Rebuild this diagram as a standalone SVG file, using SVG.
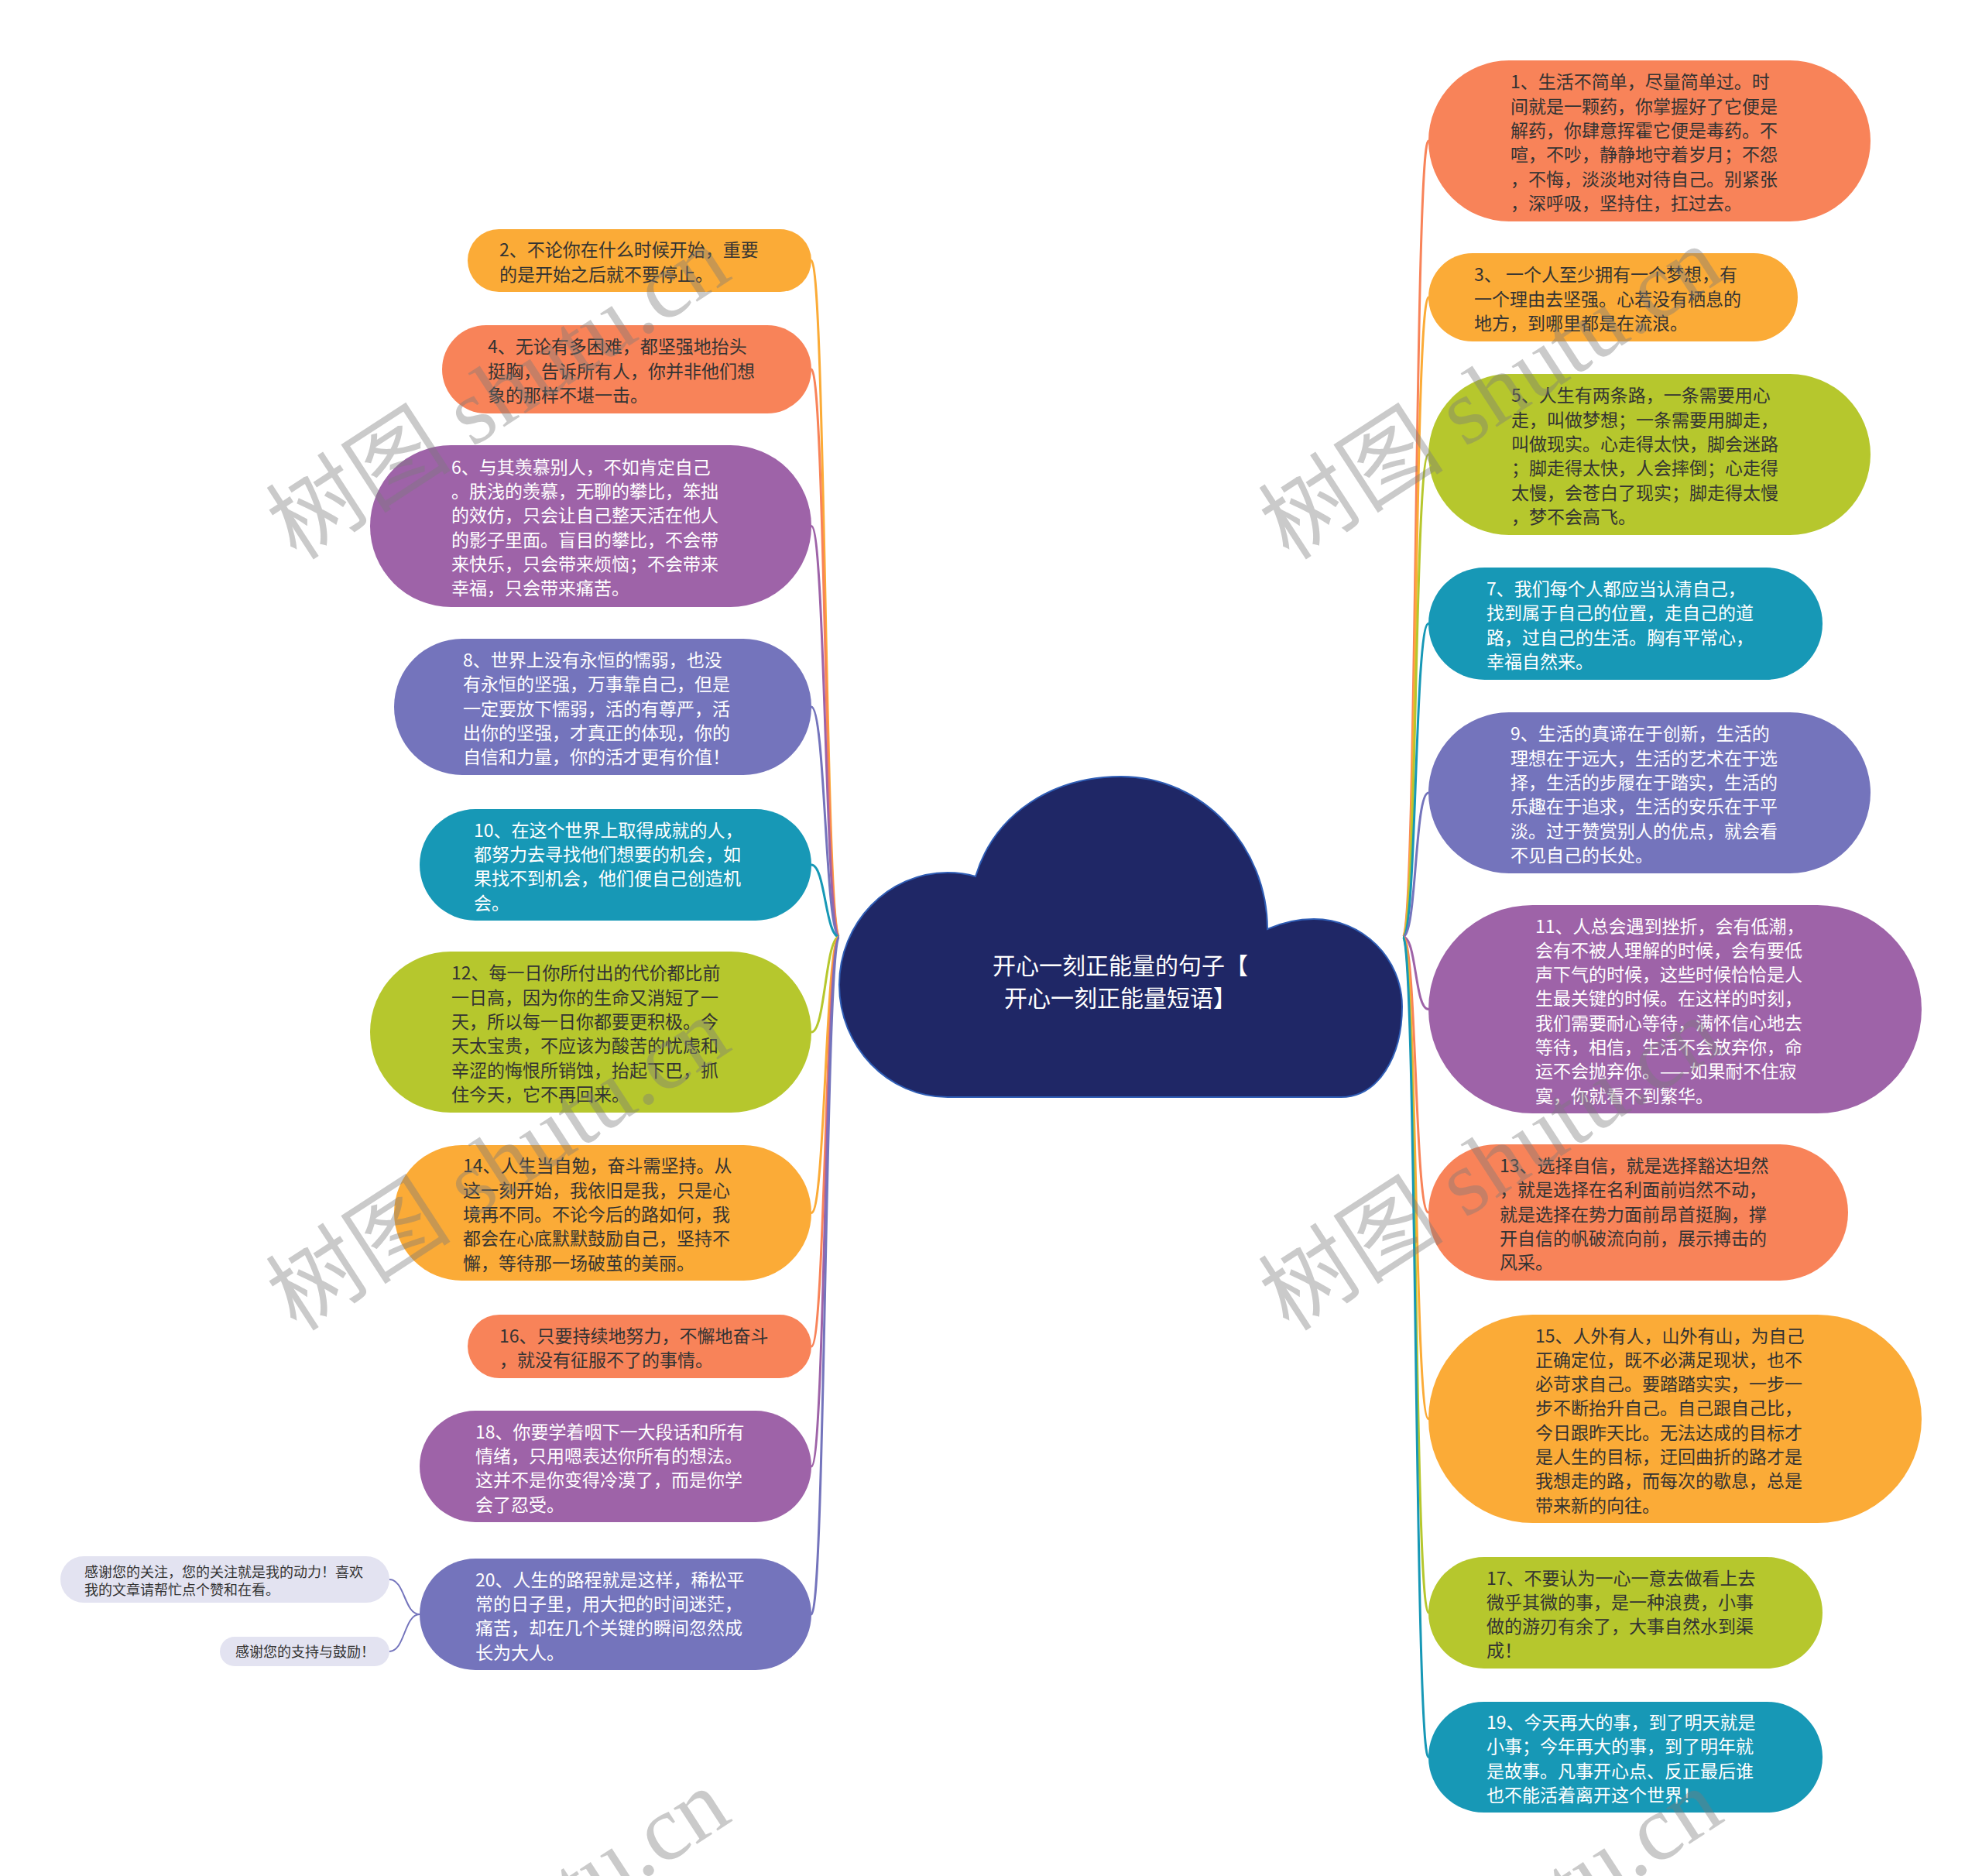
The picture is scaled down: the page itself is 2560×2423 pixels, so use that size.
<svg xmlns="http://www.w3.org/2000/svg" width="2560" height="2423" viewBox="0 0 2560 2423">
<style>
text{font-family:"Noto Sans CJK SC","Noto Sans",sans-serif}
.t{font-size:23px}
.s{font-size:18px}
.dk{fill:#333333}
.lt{fill:#ffffff}
.or{fill:#f88359}
.ye{fill:#fbab37}
.gr{fill:#b6c72d}
.te{fill:#1798b6}
.bp{fill:#7474bc}
.pu{fill:#9e63a8}
.th{fill:#e3e3f1}
.c{fill:none;stroke-width:3}
.cor{stroke:#f88359}.cye{stroke:#fbab37}.cgr{stroke:#b6c72d}.cte{stroke:#1798b6}.cbp{stroke:#7474bc}.cpu{stroke:#9e63a8}
.title{font-size:30px;fill:#ffffff}
.wm{font-family:"Liberation Serif","Noto Sans CJK SC",serif;font-size:120px;fill:#7a7a7a;fill-opacity:0.4}
</style>
<rect width="2560" height="2423" fill="#ffffff"/>
<g id="connectors">
<path class="c cye" d="M1084 1210C1066 1210 1066 336.5 1048 336.5"/>
<path class="c cor" d="M1084 1210C1066 1210 1066 477 1048 477"/>
<path class="c cpu" d="M1084 1210C1066 1210 1066 679.5 1048 679.5"/>
<path class="c cbp" d="M1084 1210C1066 1210 1066 913 1048 913"/>
<path class="c cte" d="M1084 1210C1066 1210 1066 1117 1048 1117"/>
<path class="c cgr" d="M1084 1210C1066 1210 1066 1333 1048 1333"/>
<path class="c cye" d="M1084 1210C1066 1210 1066 1566.5 1048 1566.5"/>
<path class="c cor" d="M1084 1210C1066 1210 1066 1739 1048 1739"/>
<path class="c cpu" d="M1084 1210C1066 1210 1066 1894 1048 1894"/>
<path class="c cbp" d="M1084 1210C1066 1210 1066 2085 1048 2085"/>
<path class="c cor" d="M1812 1210C1830 1210 1827 182 1845 182"/>
<path class="c cye" d="M1812 1210C1830 1210 1827 384 1845 384"/>
<path class="c cgr" d="M1812 1210C1830 1210 1827 587 1845 587"/>
<path class="c cte" d="M1812 1210C1830 1210 1827 805.5 1845 805.5"/>
<path class="c cbp" d="M1812 1210C1830 1210 1827 1024 1845 1024"/>
<path class="c cpu" d="M1812 1210C1830 1210 1827 1303.5 1845 1303.5"/>
<path class="c cor" d="M1812 1210C1830 1210 1827 1566 1845 1566"/>
<path class="c cye" d="M1812 1210C1830 1210 1827 1832.5 1845 1832.5"/>
<path class="c cgr" d="M1812 1210C1830 1210 1827 2083 1845 2083"/>
<path class="c cte" d="M1812 1210C1830 1210 1827 2269.5 1845 2269.5"/>
<path fill="none" stroke="#7474bc" stroke-width="2" d="M542 2085C522 2085 523 2040 503 2040"/>
<path fill="none" stroke="#7474bc" stroke-width="2" d="M542 2085C522 2085 523 2133 503 2133"/>
</g>
<g id="center">
<path fill="#1f2766" stroke="#2f5db5" stroke-width="2" d="M1224 1417C1147 1417 1084 1352 1084 1272C1084 1192 1147 1127 1224 1127C1238 1127 1250 1129 1260 1132C1285 1050 1360 1003 1448 1003C1555 1003 1637 1095 1637 1200C1655 1192 1676 1187 1697 1187C1760 1187 1811 1238 1811 1300C1811 1365 1780 1417 1732 1417Z"/>
<text class="title" text-anchor="middle" x="1447" y="1258">开心一刻正能量的句子【<tspan x="1447" dy="42">开心一刻正能量短语】</tspan></text>
</g>
<g id="node-r1"><rect class="or" x="1845" y="78" width="571" height="208" rx="104"/>
<text class="t dk" x="1951" y="114.3">1、生活不简单，尽量简单过。时<tspan x="1951" dy="31.3">间就是一颗药，你掌握好了它便是</tspan><tspan x="1951" dy="31.3">解药，你肆意挥霍它便是毒药。不</tspan><tspan x="1951" dy="31.3">喧，不吵，静静地守着岁月；不怨</tspan><tspan x="1951" dy="31.3">，不悔，淡淡地对待自己。别紧张</tspan><tspan x="1951" dy="31.3">，深呼吸，坚持住，扛过去。</tspan></text></g>
<g id="node-r3"><rect class="ye" x="1845" y="327" width="477" height="114" rx="57"/>
<text class="t dk" x="1904" y="363.2">3、 一个人至少拥有一个梦想，有<tspan x="1904" dy="31.3">一个理由去坚强。心若没有栖息的</tspan><tspan x="1904" dy="31.3">地方，到哪里都是在流浪。</tspan></text></g>
<g id="node-r5"><rect class="gr" x="1845" y="483" width="571" height="208" rx="104"/>
<text class="t dk" x="1952" y="519.3">5、人生有两条路，一条需要用心<tspan x="1952" dy="31.3">走，叫做梦想；一条需要用脚走，</tspan><tspan x="1952" dy="31.3">叫做现实。心走得太快，脚会迷路</tspan><tspan x="1952" dy="31.3">；脚走得太快，人会摔倒；心走得</tspan><tspan x="1952" dy="31.3">太慢，会苍白了现实；脚走得太慢</tspan><tspan x="1952" dy="31.3">，梦不会高飞。</tspan></text></g>
<g id="node-r7"><rect class="te" x="1845" y="733" width="509" height="145" rx="72.5"/>
<text class="t lt" x="1920" y="769">7、我们每个人都应当认清自己，<tspan x="1920" dy="31.3">找到属于自己的位置，走自己的道</tspan><tspan x="1920" dy="31.3">路，过自己的生活。胸有平常心，</tspan><tspan x="1920" dy="31.3">幸福自然来。</tspan></text></g>
<g id="node-r9"><rect class="bp" x="1845" y="920" width="571" height="208" rx="104"/>
<text class="t lt" x="1951" y="956.3">9、生活的真谛在于创新，生活的<tspan x="1951" dy="31.3">理想在于远大，生活的艺术在于选</tspan><tspan x="1951" dy="31.3">择，生活的步履在于踏实，生活的</tspan><tspan x="1951" dy="31.3">乐趣在于追求，生活的安乐在于平</tspan><tspan x="1951" dy="31.3">淡。过于赞赏别人的优点，就会看</tspan><tspan x="1951" dy="31.3">不见自己的长处。</tspan></text></g>
<g id="node-r11"><rect class="pu" x="1845" y="1169" width="637" height="269" rx="134.5"/>
<text class="t lt" x="1983" y="1204.5">11、人总会遇到挫折，会有低潮，<tspan x="1983" dy="31.3">会有不被人理解的时候，会有要低</tspan><tspan x="1983" dy="31.3">声下气的时候，这些时候恰恰是人</tspan><tspan x="1983" dy="31.3">生最关键的时候。在这样的时刻，</tspan><tspan x="1983" dy="31.3">我们需要耐心等待，满怀信心地去</tspan><tspan x="1983" dy="31.3">等待，相信，生活不会放弃你，命</tspan><tspan x="1983" dy="31.3">运不会抛弃你。——如果耐不住寂</tspan><tspan x="1983" dy="31.3">寞，你就看不到繁华。</tspan></text></g>
<g id="node-r13"><rect class="or" x="1845" y="1478" width="542" height="176" rx="88"/>
<text class="t dk" x="1937" y="1514">13、选择自信，就是选择豁达坦然<tspan x="1937" dy="31.3">，就是选择在名利面前岿然不动，</tspan><tspan x="1937" dy="31.3">就是选择在势力面前昂首挺胸，撑</tspan><tspan x="1937" dy="31.3">开自信的帆破流向前，展示搏击的</tspan><tspan x="1937" dy="31.3">风采。</tspan></text></g>
<g id="node-r15"><rect class="ye" x="1845" y="1698" width="637" height="269" rx="134.5"/>
<text class="t dk" x="1983" y="1733.5">15、人外有人，山外有山，为自己<tspan x="1983" dy="31.3">正确定位，既不必满足现状，也不</tspan><tspan x="1983" dy="31.3">必苛求自己。要踏踏实实，一步一</tspan><tspan x="1983" dy="31.3">步不断抬升自己。自己跟自己比，</tspan><tspan x="1983" dy="31.3">今日跟昨天比。无法达成的目标才</tspan><tspan x="1983" dy="31.3">是人生的目标，迂回曲折的路才是</tspan><tspan x="1983" dy="31.3">我想走的路，而每次的歇息，总是</tspan><tspan x="1983" dy="31.3">带来新的向往。</tspan></text></g>
<g id="node-r17"><rect class="gr" x="1845" y="2011" width="509" height="144" rx="72"/>
<text class="t dk" x="1920" y="2046.5">17、不要认为一心一意去做看上去<tspan x="1920" dy="31.3">微乎其微的事，是一种浪费，小事</tspan><tspan x="1920" dy="31.3">做的游刃有余了，大事自然水到渠</tspan><tspan x="1920" dy="31.3">成！</tspan></text></g>
<g id="node-r19"><rect class="te" x="1845" y="2198" width="509" height="143" rx="71.5"/>
<text class="t lt" x="1920" y="2233">19、今天再大的事，到了明天就是<tspan x="1920" dy="31.3">小事；今年再大的事，到了明年就</tspan><tspan x="1920" dy="31.3">是故事。凡事开心点、反正最后谁</tspan><tspan x="1920" dy="31.3">也不能活着离开这个世界！</tspan></text></g>
<g id="node-l2"><rect class="ye" x="604" y="296" width="444" height="81" rx="40.5"/>
<text class="t dk" x="645" y="331.4">2、不论你在什么时候开始，重要<tspan x="645" dy="31.3">的是开始之后就不要停止。</tspan></text></g>
<g id="node-l4"><rect class="or" x="571" y="420" width="477" height="114" rx="57"/>
<text class="t dk" x="630" y="456.2">4、无论有多困难，都坚强地抬头<tspan x="630" dy="31.3">挺胸，告诉所有人，你并非他们想</tspan><tspan x="630" dy="31.3">象的那样不堪一击。</tspan></text></g>
<g id="node-l6"><rect class="pu" x="478" y="575" width="570" height="209" rx="104.5"/>
<text class="t lt" x="583" y="611.8">6、与其羡慕别人，不如肯定自己<tspan x="583" dy="31.3">。肤浅的羡慕，无聊的攀比，笨拙</tspan><tspan x="583" dy="31.3">的效仿，只会让自己整天活在他人</tspan><tspan x="583" dy="31.3">的影子里面。盲目的攀比，不会带</tspan><tspan x="583" dy="31.3">来快乐，只会带来烦恼；不会带来</tspan><tspan x="583" dy="31.3">幸福，只会带来痛苦。</tspan></text></g>
<g id="node-l8"><rect class="bp" x="509" y="825" width="539" height="176" rx="88"/>
<text class="t lt" x="598" y="860.9">8、世界上没有永恒的懦弱，也没<tspan x="598" dy="31.3">有永恒的坚强，万事靠自己，但是</tspan><tspan x="598" dy="31.3">一定要放下懦弱，活的有尊严，活</tspan><tspan x="598" dy="31.3">出你的坚强，才真正的体现，你的</tspan><tspan x="598" dy="31.3">自信和力量，你的活才更有价值！</tspan></text></g>
<g id="node-l10"><rect class="te" x="542" y="1045" width="506" height="144" rx="72"/>
<text class="t lt" x="612" y="1080.6">10、在这个世界上取得成就的人，<tspan x="612" dy="31.3">都努力去寻找他们想要的机会，如</tspan><tspan x="612" dy="31.3">果找不到机会，他们便自己创造机</tspan><tspan x="612" dy="31.3">会。</tspan></text></g>
<g id="node-l12"><rect class="gr" x="478" y="1229" width="570" height="208" rx="104"/>
<text class="t dk" x="583" y="1265.3">12、每一日你所付出的代价都比前<tspan x="583" dy="31.3">一日高，因为你的生命又消短了一</tspan><tspan x="583" dy="31.3">天，所以每一日你都要更积极。今</tspan><tspan x="583" dy="31.3">天太宝贵，不应该为酸苦的忧虑和</tspan><tspan x="583" dy="31.3">辛涩的悔恨所销蚀，抬起下巴，抓</tspan><tspan x="583" dy="31.3">住今天，它不再回来。</tspan></text></g>
<g id="node-l14"><rect class="ye" x="509" y="1479" width="539" height="175" rx="87.5"/>
<text class="t dk" x="598" y="1514.4">14、人生当自勉，奋斗需坚持。从<tspan x="598" dy="31.3">这一刻开始，我依旧是我，只是心</tspan><tspan x="598" dy="31.3">境再不同。不论今后的路如何，我</tspan><tspan x="598" dy="31.3">都会在心底默默鼓励自己，坚持不</tspan><tspan x="598" dy="31.3">懈，等待那一场破茧的美丽。</tspan></text></g>
<g id="node-l16"><rect class="or" x="604" y="1698" width="444" height="82" rx="41"/>
<text class="t dk" x="645" y="1733.9">16、只要持续地努力，不懈地奋斗<tspan x="645" dy="31.3">，就没有征服不了的事情。</tspan></text></g>
<g id="node-l18"><rect class="pu" x="542" y="1822" width="506" height="144" rx="72"/>
<text class="t lt" x="614" y="1857.6">18、你要学着咽下一大段话和所有<tspan x="614" dy="31.3">情绪，只用嗯表达你所有的想法。</tspan><tspan x="614" dy="31.3">这并不是你变得冷漠了，而是你学</tspan><tspan x="614" dy="31.3">会了忍受。</tspan></text></g>
<g id="node-l20"><rect class="bp" x="542" y="2013" width="506" height="144" rx="72"/>
<text class="t lt" x="614" y="2048.6">20、人生的路程就是这样，稀松平<tspan x="614" dy="31.3">常的日子里，用大把的时间迷茫，</tspan><tspan x="614" dy="31.3">痛苦，却在几个关键的瞬间忽然成</tspan><tspan x="614" dy="31.3">长为大人。</tspan></text></g>
<g id="node-t1"><rect class="th" x="78" y="2010" width="425" height="60" rx="30"/>
<text class="s dk" x="109" y="2037">感谢您的关注，您的关注就是我的动力！喜欢<tspan x="109" dy="23">我的文章请帮忙点个赞和在看。</tspan></text></g>
<g id="node-t2"><rect class="th" x="284" y="2114" width="219" height="38" rx="19"/>
<text class="s dk" x="304" y="2140">感谢您的支持与鼓励！</text></g>
<g id="watermarks">
<text class="wm" text-anchor="middle" x="645" y="548" transform="rotate(-33 645 510)">树图 shutu.cn</text>
<text class="wm" text-anchor="middle" x="1927" y="548" transform="rotate(-33 1927 510)">树图 shutu.cn</text>
<text class="wm" text-anchor="middle" x="645" y="1544" transform="rotate(-33 645 1506)">树图 shutu.cn</text>
<text class="wm" text-anchor="middle" x="1927" y="1544" transform="rotate(-33 1927 1506)">树图 shutu.cn</text>
<text class="wm" text-anchor="middle" x="645" y="2540" transform="rotate(-33 645 2502)">树图 shutu.cn</text>
<text class="wm" text-anchor="middle" x="1927" y="2540" transform="rotate(-33 1927 2502)">树图 shutu.cn</text>
</g>
</svg>
